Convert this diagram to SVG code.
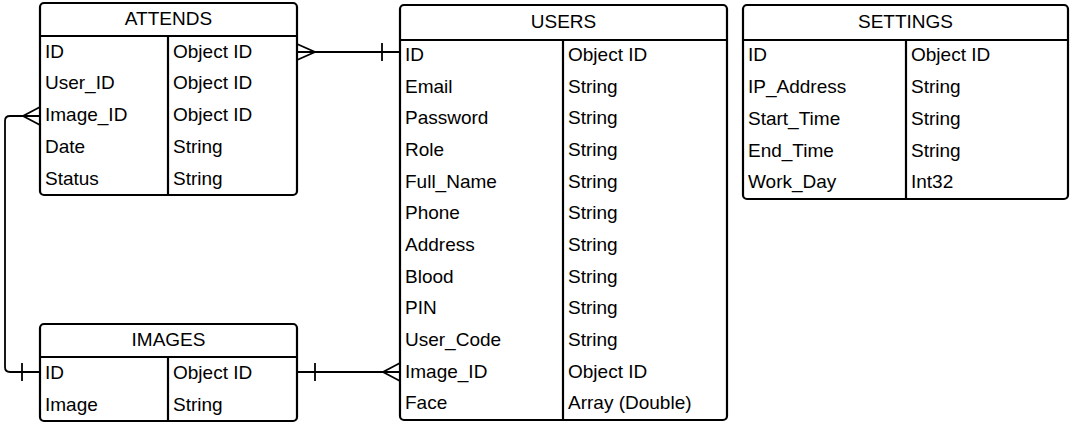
<svg xmlns="http://www.w3.org/2000/svg" width="1071" height="423" viewBox="0 0 1071 423">
<style>
.box{fill:#fff;stroke:#000;stroke-width:2.2}
.ln{stroke:#000;stroke-width:2.2;fill:none}
.cn{stroke:#000;stroke-width:1.8;fill:none}
text{font-family:"Liberation Sans",Arial,sans-serif;font-size:19px;fill:#000}
.h{text-anchor:middle}
</style>
<rect width="1071" height="423" fill="#fff"/>
<g id="connectors">
<g id="attends-users">
<path class="cn" d="M297,52 H400"/>
<path class="cn" d="M297,44 L315,52 L297,60"/>
<path class="cn" d="M382,43 V61"/>
</g>
<g id="attends-images">
<path class="cn" d="M40,116 H10 Q5,116 5,121 V367 Q5,372 10,372 H40"/>
<path class="cn" d="M40,107 L23,116 L40,125"/>
<path class="cn" d="M22,363 V381"/>
</g>
<g id="images-users">
<path class="cn" d="M297,372 H400"/>
<path class="cn" d="M315,363 V381"/>
<path class="cn" d="M400,363 L383,372 L400,381"/>
</g>
</g>
<g id="attends">
<rect class="box" x="40" y="3" width="257" height="192" rx="4"/>
<path class="ln" d="M40,36 H297 M168,36 V195"/>
<text class="h" x="168.5" y="25">ATTENDS</text>
<text x="45" y="58">ID</text><text x="173" y="58">Object ID</text>
<text x="45" y="89">User_ID</text><text x="173" y="89">Object ID</text>
<text x="45" y="121">Image_ID</text><text x="173" y="121">Object ID</text>
<text x="45" y="153">Date</text><text x="173" y="153">String</text>
<text x="45" y="185">Status</text><text x="173" y="185">String</text>
</g>
<g id="images">
<rect class="box" x="40" y="324" width="257" height="97" rx="4"/>
<path class="ln" d="M40,357 H297 M168,357 V421"/>
<text class="h" x="168.5" y="346">IMAGES</text>
<text x="45" y="379">ID</text><text x="173" y="379">Object ID</text>
<text x="45" y="411">Image</text><text x="173" y="411">String</text>
</g>
<g id="users">
<rect class="box" x="400" y="5" width="327" height="415" rx="4"/>
<path class="ln" d="M400,40 H727 M563,40 V420"/>
<text class="h" x="563.5" y="28">USERS</text>
<text x="405" y="61">ID</text><text x="568" y="61">Object ID</text>
<text x="405" y="93">Email</text><text x="568" y="93">String</text>
<text x="405" y="124">Password</text><text x="568" y="124">String</text>
<text x="405" y="156">Role</text><text x="568" y="156">String</text>
<text x="405" y="188">Full_Name</text><text x="568" y="188">String</text>
<text x="405" y="219">Phone</text><text x="568" y="219">String</text>
<text x="405" y="251">Address</text><text x="568" y="251">String</text>
<text x="405" y="283">Blood</text><text x="568" y="283">String</text>
<text x="405" y="314">PIN</text><text x="568" y="314">String</text>
<text x="405" y="346">User_Code</text><text x="568" y="346">String</text>
<text x="405" y="378">Image_ID</text><text x="568" y="378">Object ID</text>
<text x="405" y="409">Face</text><text x="568" y="409">Array (Double)</text>
</g>
<g id="settings">
<rect class="box" x="743" y="5" width="325" height="194" rx="4"/>
<path class="ln" d="M743,40 H1068 M906,40 V199"/>
<text class="h" x="905.5" y="28">SETTINGS</text>
<text x="748" y="61">ID</text><text x="911" y="61">Object ID</text>
<text x="748" y="93">IP_Address</text><text x="911" y="93">String</text>
<text x="748" y="125">Start_Time</text><text x="911" y="125">String</text>
<text x="748" y="157">End_Time</text><text x="911" y="157">String</text>
<text x="748" y="188">Work_Day</text><text x="911" y="188">Int32</text>
</g>
</svg>
